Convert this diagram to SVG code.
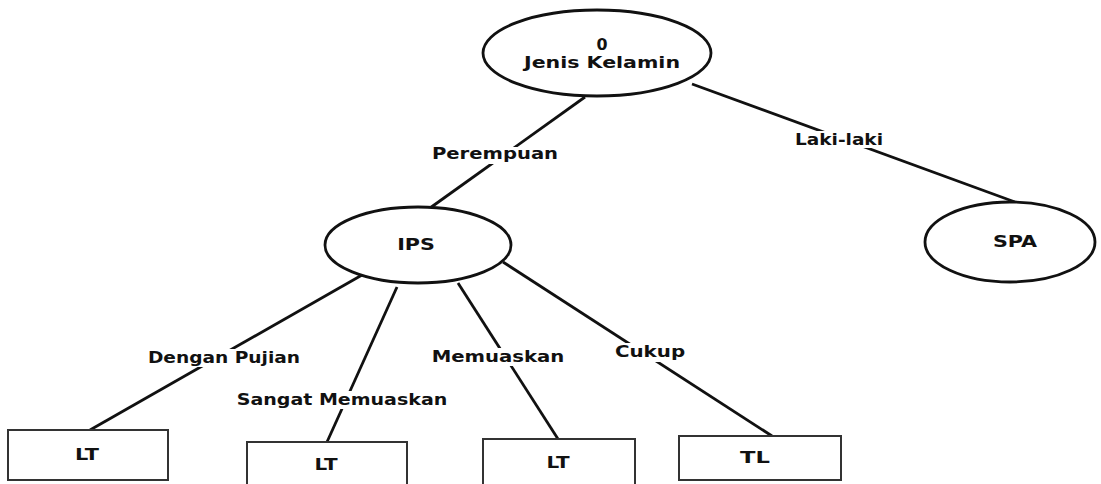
<svg xmlns="http://www.w3.org/2000/svg" width="1101" height="484" viewBox="0 0 1101 484">
<style>
.n{fill:#fff;stroke:#111;stroke-width:2.8}
.b{fill:#fff;stroke:#333;stroke-width:2}
.e{stroke:#111;stroke-width:2.8;fill:none}
.t{font-family:"DejaVu Sans","Liberation Sans",Arial,sans-serif;font-weight:bold;font-size:15px;fill:#111;text-anchor:middle}
.bg{fill:#fff}
</style>
<rect width="1101" height="484" fill="#fff"/>
<g id="connectors">
<line class="e" x1="585" y1="97" x2="430" y2="208"/>
<line class="e" x1="692" y1="84" x2="1015" y2="202"/>
<line class="e" x1="362" y1="275" x2="90" y2="430"/>
<line class="e" x1="397" y1="287" x2="327" y2="442"/>
<line class="e" x1="458" y1="283" x2="558" y2="439"/>
<line class="e" x1="503" y1="262" x2="772" y2="436"/>
<rect class="bg" x="428" y="147" width="134" height="17"/>
<text class="t" transform="translate(495,159) scale(1.3,1)" textLength="97" lengthAdjust="spacingAndGlyphs">Perempuan</text>
<rect class="bg" x="791" y="131" width="96" height="17"/>
<text class="t" transform="translate(839,145) scale(1.3,1)" textLength="67.7" lengthAdjust="spacingAndGlyphs">Laki-laki</text>
<rect class="bg" x="144" y="349" width="160" height="18"/>
<text class="t" transform="translate(224,363) scale(1.3,1)" textLength="117" lengthAdjust="spacingAndGlyphs">Dengan Pujian</text>
<rect class="bg" x="233" y="391" width="219" height="18"/>
<text class="t" transform="translate(342,405) scale(1.3,1)" textLength="162" lengthAdjust="spacingAndGlyphs">Sangat Memuaskan</text>
<rect class="bg" x="428" y="348" width="141" height="18"/>
<text class="t" transform="translate(498,362) scale(1.3,1)" textLength="102" lengthAdjust="spacingAndGlyphs">Memuaskan</text>
<rect class="bg" x="611" y="343" width="78" height="19"/>
<text class="t" transform="translate(650,357) scale(1.3,1)" textLength="54" lengthAdjust="spacingAndGlyphs">Cukup</text>
</g>
<g id="root">
<ellipse class="n" cx="597" cy="53" rx="114" ry="43"/>
<text class="t" transform="translate(602,50) scale(1.3,1)" textLength="8.5" lengthAdjust="spacingAndGlyphs">0</text>
<text class="t" transform="translate(602,68) scale(1.3,1)" textLength="120" lengthAdjust="spacingAndGlyphs">Jenis Kelamin</text>
</g>
<g id="ips">
<ellipse class="n" cx="418" cy="245" rx="93" ry="38"/>
<text class="t" transform="translate(416,250) scale(1.3,1)" textLength="29" lengthAdjust="spacingAndGlyphs">IPS</text>
</g>
<g id="spa">
<ellipse class="n" cx="1010" cy="242" rx="85" ry="40"/>
<text class="t" transform="translate(1015,247) scale(1.3,1)" textLength="34" lengthAdjust="spacingAndGlyphs">SPA</text>
</g>
<g id="lt1">
<rect class="b" x="8" y="430" width="160" height="50"/>
<text class="t" transform="translate(87,460) scale(1.3,1)" textLength="18.5" lengthAdjust="spacingAndGlyphs">LT</text>
</g>
<g id="lt2">
<rect class="b" x="247" y="442" width="160" height="50"/>
<text class="t" transform="translate(326,470) scale(1.3,1)" textLength="17.7" lengthAdjust="spacingAndGlyphs">LT</text>
</g>
<g id="lt3">
<rect class="b" x="483" y="439" width="152" height="50"/>
<text class="t" transform="translate(558,468) scale(1.3,1)" textLength="17.7" lengthAdjust="spacingAndGlyphs">LT</text>
</g>
<g id="tl">
<rect class="b" x="679" y="436" width="162" height="44"/>
<text class="t" transform="translate(755,463) scale(1.3,1)" textLength="23" lengthAdjust="spacingAndGlyphs">TL</text>
</g>
</svg>
